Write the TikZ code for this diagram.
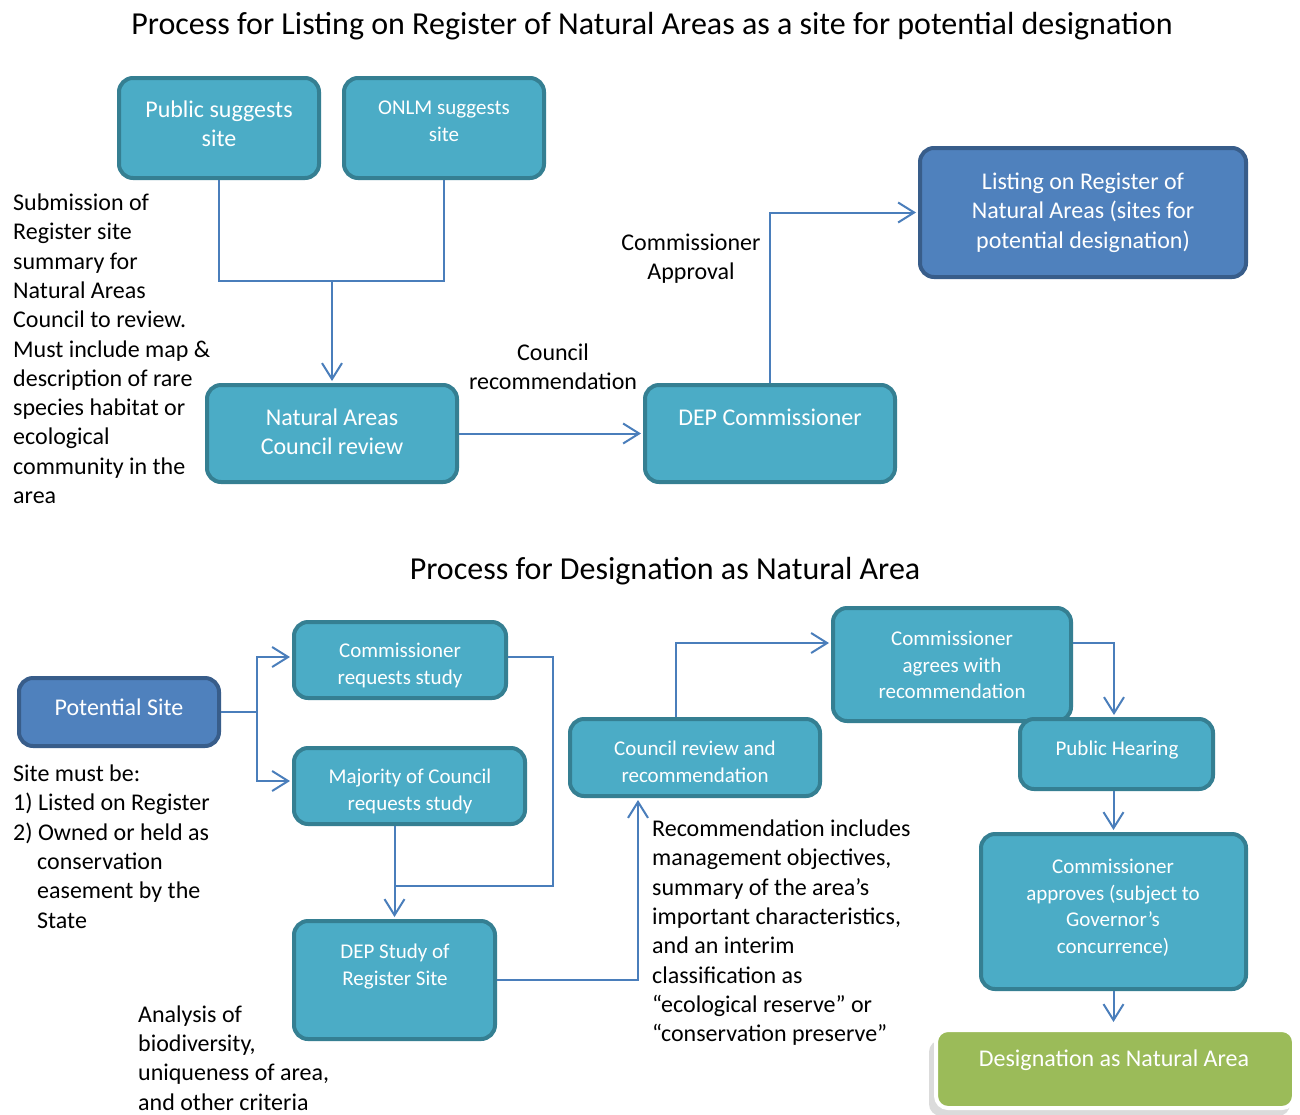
\documentclass[tikz,border=0pt]{standalone}
\usepackage{fontspec}
\setmainfont{Carlito}
\usetikzlibrary{arrows.meta}
\definecolor{tealF}{HTML}{4BACC6}
\definecolor{tealB}{HTML}{357F92}
\definecolor{blueF}{HTML}{4F81BD}
\definecolor{blueB}{HTML}{385D8A}
\definecolor{greenF}{HTML}{9BBB59}
\definecolor{lineC}{HTML}{4A7EBB}
\begin{document}
\begin{tikzpicture}[x=1pt,y=-1pt,
 tealbox/.style={draw=tealB, line width=4pt, fill=tealF, rounded corners=14pt, inner sep=0pt},
 bluebox/.style={draw=blueB, line width=4pt, fill=blueF, rounded corners=14pt, inner sep=0pt},
 greenbox/.style={draw=white, line width=4pt, fill=greenF, rounded corners=12pt, inner sep=0pt},
 conn/.style={draw=lineC, line width=2pt},
 arr/.style={conn, -{Straight Barb[length=16pt,width=20pt,line width=2pt]}},
 big/.style={font=\fontsize{24}{29.3}\selectfont},
 small/.style={font=\fontsize{21}{26.5}\selectfont},
 title/.style={font=\fontsize{32}{38}\selectfont, anchor=base, inner sep=0pt},
 wtxt/.style={text=white, align=center, anchor=base, inner sep=0pt},
 ptxt/.style={big, text=black, align=left, anchor=base west, inner sep=0pt},
 ctxt/.style={big, text=black, align=center, anchor=base, inner sep=0pt},
]
\useasboundingbox[fill=white] (0,0) rectangle (1300,1114);

% titles
\node[title] (t1) at (652,34) {Process for Listing on Register of Natural Areas as a site for potential designation};
\node[title] (t2) at (665,579) {Process for Designation as Natural Area};

% ---------- top boxes
\node[tealbox, minimum width=200, minimum height=100] (pub) at (219,128) {};
\node[wtxt, big] (pubt) at (219,146.8) {Public suggests\\site};
\node[tealbox, minimum width=200, minimum height=100] (onlm) at (444,128) {};
\node[wtxt, small] (onlmt) at (444,141) {ONLM suggests\\site};
\node[bluebox, minimum width=326, minimum height=129] (list) at (1083,212.5) {};
\node[wtxt, big] (listt) at (1083,248) {Listing on Register of\\Natural Areas (sites for\\potential designation)};
\node[tealbox, minimum width=250, minimum height=97] (nac) at (332,433.5) {};
\node[wtxt, big] (nact) at (332,454.8) {Natural Areas\\Council review};
\node[tealbox, minimum width=250, minimum height=97] (dep) at (770,433.5) {};
\node[wtxt, big] (dept) at (770,425.5) {DEP Commissioner};

% top connectors
\coordinate (jt) at (332,281);
\draw[conn] (pub.south) |- (jt) -| (onlm.south);
\draw[arr] (jt) -- ([yshift=2]nac.north);
\draw[arr] (nac.east) -- ([xshift=-2]dep.west);
\draw[arr] (dep.north) |- ([xshift=-2]list.west);

% top texts
\node[ptxt] (sub) at (13,503.5) {Submission of\\Register site\\summary for\\Natural Areas\\Council to review.\\Must include map \&\\description of rare\\species habitat or\\ecological\\community in the\\area};
\node[ctxt] (crec) at (553,389.8) {Council\\recommendation};
\node[ctxt] (capr) at (691,279.8) {Commissioner\\Approval};

% ---------- bottom boxes
\node[bluebox, minimum width=200, minimum height=68] (pot) at (119,712) {};
\node[wtxt, big] (pott) at (119,715.5) {Potential Site};
\node[tealbox, minimum width=212, minimum height=76] (creq) at (400,660) {};
\node[wtxt, small] (creqt) at (400,684) {Commissioner\\requests study};
\node[tealbox, minimum width=231, minimum height=76] (maj) at (409.5,786) {};
\node[wtxt, small] (majt) at (410,810) {Majority of Council\\requests study};
\node[tealbox, minimum width=201, minimum height=118] (study) at (394.5,980) {};
\node[wtxt, small] (studyt) at (395,985) {DEP Study of\\Register Site};
\node[tealbox, minimum width=250, minimum height=77] (crr) at (695,757.5) {};
\node[wtxt, small] (crrt) at (695,782) {Council review and\\recommendation};
\node[tealbox, minimum width=238, minimum height=113] (cag) at (952,664.5) {};
\node[wtxt, small] (cagt) at (952,698.5) {Commissioner\\agrees with\\recommendation};
\node[tealbox, minimum width=193, minimum height=70] (ph) at (1116.5,754) {};
\node[wtxt, small] (pht) at (1117,755.5) {Public Hearing};
\node[tealbox, minimum width=265, minimum height=155] (capp) at (1113.5,911.5) {};
\node[wtxt, small] (cappt) at (1113,953) {Commissioner\\approves (subject to\\Governor’s\\concurrence)};
\fill[black!14, rounded corners=12pt] (929,1040) rectangle (1290,1116);
\node[greenbox, minimum width=358, minimum height=78] (des) at (1115,1069) {};
\node[wtxt, big] (dest) at (1114,1066.5) {Designation as Natural Area};

% bottom connectors
\coordinate (jp) at (257,712);
\coordinate (jm) at (395,886);
\draw[conn] (pot.east) -- (jp);
\draw[arr] (jp) |- ([xshift=-2,yshift=3]creq.west);
\draw[arr] (jp) |- ([xshift=-2,yshift=5]maj.west);
\draw[conn] ([yshift=3]creq.east) -| (553,886) -- (jm);
\draw[arr] (maj.south -| study.north) -- ([yshift=2]study.north);
\draw[arr] (study.east) -| ([xshift=-57,yshift=-2]crr.south);
\draw[arr] ([xshift=-19]crr.north) |- ([xshift=-2,yshift=21.5]cag.west);
\draw[arr] ([yshift=21.5]cag.east) -| ([xshift=-2.5,yshift=2]ph.north);
\draw[arr] (ph.south -| capp.north) -- ([yshift=2]capp.north);
\draw[arr] (capp.south) -- ([yshift=6]capp.south |- des.north);

% bottom texts
\node[ptxt] (must) at (13,928) {Site must be:\\1) Listed on Register\\2) Owned or held as\\\hspace*{24pt}conservation\\\hspace*{24pt}easement by the\\\hspace*{24pt}State};
\node[ptxt] (anal) at (138,1110) {Analysis of\\biodiversity,\\uniqueness of area,\\and other criteria};
\node[ptxt] (recm) at (652,1041.6) {Recommendation includes\\management objectives,\\summary of the area’s\\important characteristics,\\and an interim\\classification as\\“ecological reserve” or\\“conservation preserve”};
\end{tikzpicture}
\end{document}
